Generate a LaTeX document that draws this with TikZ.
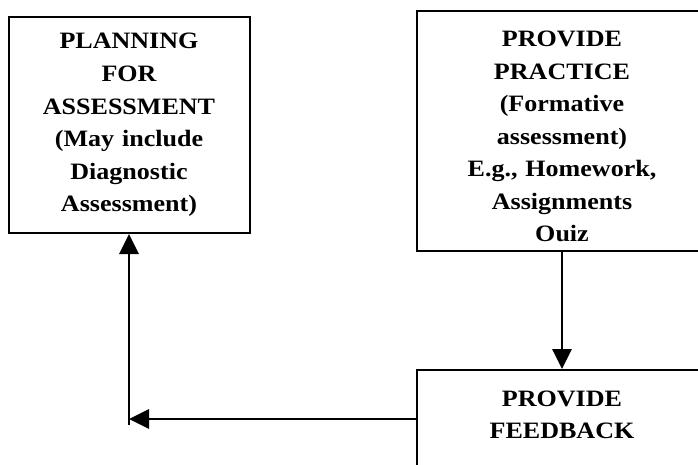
\documentclass[tikz,border=0pt]{standalone}
\usepackage{fontspec}
\setmainfont{Liberation Serif}
\newfontfamily\stagefont{Liberation Serif Bold}[FakeStretch=1.11]
\usetikzlibrary{arrows.meta, positioning}

\begin{document}
\begin{tikzpicture}[
  x=0.75pt, y=-0.75pt,
  % === BASIC STYLES ===
  % Box for one stage of the cycle
  stagebox/.style={
    draw=black,
    line width=1.5pt,
    text width=#1,
    minimum width=#1,
    inner xsep=0pt,
    align=center,
    font=\stagefont\fontsize{17.6}{24.4}\selectfont
  },
  stagebox/.default=217.5pt,
  % Arrows
  flowarrow/.style={
    draw=black,
    line width=1.5pt,
    -{Triangle[length=15pt, width=14.5pt]}
  }
]

% =============================================================================
% CANVAS
% =============================================================================
\useasboundingbox (0,0) rectangle (698,464);
\clip (0,0) rectangle (698,464);
\fill[white] (0,0) rectangle (698,464);

% =============================================================================
% STAGES
% =============================================================================
\node[stagebox=180.75pt, minimum height=162pt] (plan) at (129,125)
      {PLANNING\\FOR\\ASSESSMENT\\(May include\\Diagnostic\\Assessment)};

\node[stagebox, anchor=north, inner ysep=15pt, text depth=138pt] (practice) at (562,10)
      {PROVIDE\\PRACTICE\\(Formative\\assessment)\\E.g., Homework,\\Assignments\\Ouiz};

\node[stagebox, anchor=north, inner ysep=15.4pt, text depth=60pt] (feedback) at (562,369)
      {PROVIDE\\FEEDBACK};

% =============================================================================
% CONNECTORS
% =============================================================================
\coordinate (turn) at (129,419);
\coordinate (foot) at (129,425);

\draw[flowarrow] (practice) -- (feedback);
\draw[flowarrow] (feedback.west |- turn) -- (turn);
\draw[flowarrow] (foot) -- (plan);

\end{tikzpicture}
\end{document}
